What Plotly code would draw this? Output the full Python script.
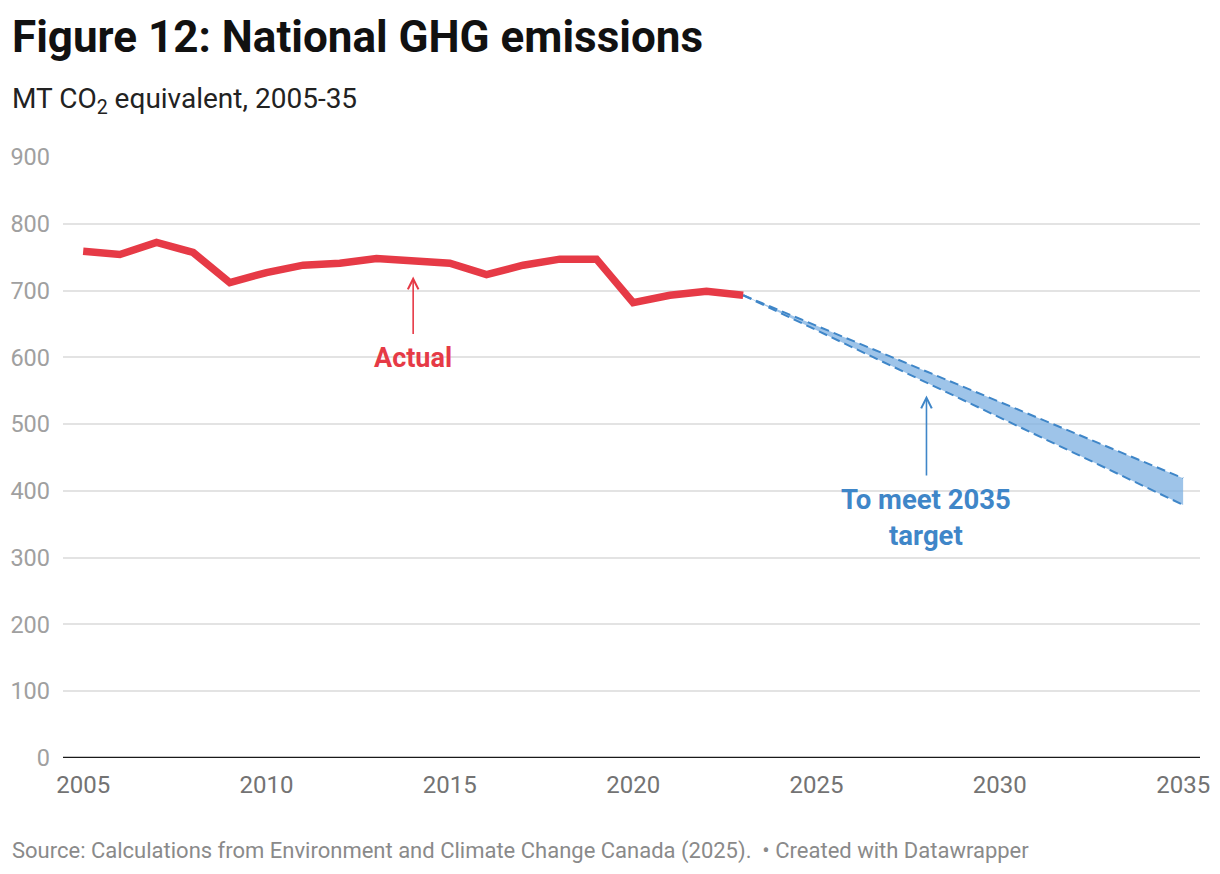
import plotly.graph_objects as go

years = list(range(2005, 2024))
actual = [759, 754, 772, 757, 712, 727, 738, 741, 748, 745, 741, 724, 738, 747, 747, 682, 693, 699, 693]
proj_years = [2023, 2035]
proj_upper = [693, 419]
proj_lower = [693, 379]
x_ticks = [2005, 2010, 2015, 2020, 2025, 2030, 2035]
y_ticks = [0, 100, 200, 300, 400, 500, 600, 700, 800, 900]

RED = "#e63a46"
BLUE = "#3f86c8"
FONT = "Roboto"
XTICK_COLOR = "#737373"

fig = go.Figure()
fig.add_trace(go.Scatter(x=proj_years, y=proj_lower, mode="lines",
                         line=dict(color=BLUE, width=2, dash="9px,5px"), hoverinfo="skip"))
fig.add_trace(go.Scatter(x=proj_years, y=proj_upper, mode="lines",
                         line=dict(color=BLUE, width=2, dash="9px,5px"),
                         fill="tonexty", fillcolor="rgba(126,176,226,0.75)", hoverinfo="skip"))
fig.add_trace(go.Scatter(x=years, y=actual, mode="lines",
                         line=dict(color=RED, width=7.5), hoverinfo="skip"))

fig.update_layout(
    width=1204, height=856,
    margin=dict(l=55, r=12, t=149, b=106),
    paper_bgcolor="white", plot_bgcolor="white",
    showlegend=False,
    font=dict(family=FONT),
    xaxis=dict(range=[2004.45, 2035.46], tickvals=x_ticks, showgrid=False, zeroline=False,
               showline=False, ticks="", ticklabelstandoff=10, automargin=False,
               tickfont=dict(size=24, color=XTICK_COLOR, family=FONT)),
    yaxis=dict(range=[0, 900], tickvals=y_ticks, showgrid=True, gridcolor="#e3e3e3", gridwidth=1.5,
               zeroline=False, showline=False, ticks="", ticklabelstandoff=12, automargin=False,
               tickfont=dict(size=23.5, color="#a0a0a0", family=FONT)),
)

fig.add_shape(type="line", xref="paper", yref="y", x0=0, x1=1, y0=0, y1=0,
              line=dict(color="#1a1a1a", width=2.5))

# Title, subtitle, source
fig.add_annotation(text="<b>Figure 12: National GHG emissions</b>", xref="paper", yref="paper",
                   x=-0.0466, y=1.2, xanchor="left", yanchor="middle", showarrow=False,
                   font=dict(size=44, color="#111111", family=FONT))
fig.add_annotation(text="MT CO<sub>2</sub> equivalent, 2005-35", xref="paper", yref="paper",
                   x=-0.0466, y=1.094, xanchor="left", yanchor="middle", showarrow=False,
                   font=dict(size=28, color="#222222", family=FONT))
fig.add_annotation(text="Source: Calculations from Environment and Climate Change Canada (2025).  • Created with Datawrapper",
                   xref="paper", yref="paper", x=-0.0466, y=-0.1547, xanchor="left", yanchor="middle",
                   showarrow=False, font=dict(size=22, color="#8a8a8a", family=FONT))

# Actual annotation
fig.add_annotation(x=2014, y=721, ax=0, ay=81, axref="pixel", ayref="pixel",
                   text="<b>Actual</b>", showarrow=True, arrowhead=5, arrowsize=1.3,
                   arrowwidth=1.6, arrowcolor=RED, borderpad=7,
                   font=dict(size=27, color=RED, family=FONT))

# Target annotation
fig.add_annotation(x=2028, y=543, ax=0, ay=122, axref="pixel", ayref="pixel",
                   text="<b>To meet 2035<br>target</b>", showarrow=True, arrowhead=5, arrowsize=1.3,
                   arrowwidth=1.6, arrowcolor=BLUE, borderpad=7,
                   font=dict(size=27.5, color=BLUE, family=FONT))

fig.write_html("out.html")
